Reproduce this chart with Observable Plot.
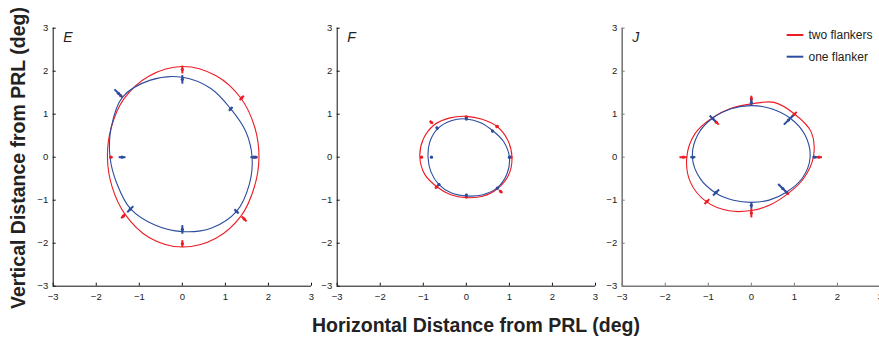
<!DOCTYPE html>
<html><head><meta charset="utf-8">
<script src="https://cdn.jsdelivr.net/npm/d3@7"></script>
<script src="https://cdn.jsdelivr.net/npm/@observablehq/plot@0.6"></script>
<style>
html,body{margin:0;padding:0;background:#fff;}
#wrap{position:relative;width:879px;height:337px;overflow:hidden;background:#fff;font-family:"Liberation Sans",Arial,Helvetica,sans-serif;}
.panel{position:absolute;top:0;}
#overlay{position:absolute;left:0;top:0;pointer-events:none;}
</style></head><body><div id="wrap"></div>
<script>
// ---- labels / categories ----
const panelNames = ["E", "F", "J"];
const seriesNames = ["two flankers", "one flanker"];
const tickValues = [-3, -2, -1, 0, 1, 2, 3];
const xTitle = "Horizontal Distance from PRL (deg)";
const yTitle = "Vertical Distance from PRL (deg)";

// ---- fitted contours: radius (deg) at 16 equally spaced directions, starting rightward, counter-clockwise ----
const fitE_two = [1.78, 1.82, 1.93, 2.05, 2.11, 2.04, 1.92, 1.79, 1.74, 1.77, 1.88, 2.02, 2.09, 2.04, 1.93, 1.81];
const fitE_one = [1.62, 1.59, 1.59, 1.73, 1.86, 1.94, 1.97, 1.79, 1.68, 1.64, 1.70, 1.70, 1.73, 1.78, 1.78, 1.68];
const fitF_two = [1.06, 1.04, 1.01, 0.955, 0.95, 0.99, 1.06, 1.085, 1.08, 1.045, 0.97, 0.945, 0.94, 0.985, 1.03, 1.065];
const fitF_one = [1.00, 0.94, 0.87, 0.87, 0.89, 0.92, 0.94, 0.92, 0.89, 0.89, 0.90, 0.90, 0.90, 0.95, 1.01, 1.02];
const fitJ_two = [1.44, 1.51, 1.42, 1.38, 1.24, 1.23, 1.29, 1.42, 1.50, 1.53, 1.47, 1.35, 1.24, 1.19, 1.20, 1.31];
const fitJ_one = [1.365, 1.35, 1.28, 1.22, 1.20, 1.22, 1.28, 1.35, 1.37, 1.29, 1.175, 1.083, 1.05, 1.08, 1.15, 1.28];

// ---- measured thresholds at 8 directions (deg), with error half-lengths ----
const dataDirections = [0, 45, 90, 135, 180, 225, 270, 315];
const ptsE_two = [1.70, 1.95, 2.04, 2.03, 1.66, 1.94, 2.01, 2.03];
const errE_two = [0.05, 0.07, 0.09, 0.05, 0.04, 0.07, 0.08, 0.08];
const ptsE_one = [1.66, 1.59, 1.81, 2.10, 1.40, 1.71, 1.68, 1.78];
const errE_one = [0.08, 0.06, 0.10, 0.13, 0.08, 0.10, 0.10, 0.07];
const ptsF_two = [1.03, 1.01, 0.93, 1.15, 1.04, 0.98, 0.92, 1.13];
const errF_two = [0.04, 0.04, 0.04, 0.05, 0.03, 0.05, 0.04, 0.05];
const ptsF_one = [1.00, 0.86, 0.89, 0.96, 0.81, 0.90, 0.88, 1.02];
const errF_one = [0.03, 0.03, 0.03, 0.04, 0.02, 0.03, 0.03, 0.03];
const ptsJ_two = [1.57, 1.41, 1.36, 1.15, 1.58, 1.46, 1.30, 1.17];
const errJ_two = [0.07, 0.08, 0.07, 0.08, 0.09, 0.08, 0.10, 0.06];
const ptsJ_one = [1.47, 1.22, 1.27, 1.27, 1.36, 1.16, 1.12, 1.03];
const errJ_one = [0.05, 0.15, 0.08, 0.10, 0.06, 0.10, 0.08, 0.15];

const RED = "#ed1c24", BLUE = "#2c4c9f";

function contour(radii) {
  const n = radii.length;
  return radii.map((r, i) => { const a = i * 2 * Math.PI / n; return {x: r * Math.cos(a), y: r * Math.sin(a)}; });
}
function points(radii, errs) {
  return radii.map((r, i) => {
    const a = dataDirections[i] * Math.PI / 180, c = Math.cos(a), s = Math.sin(a);
    return {x: r * c, y: r * s, x1: (r - errs[i]) * c, y1: (r - errs[i]) * s, x2: (r + errs[i]) * c, y2: (r + errs[i]) * s};
  });
}
const fmt = d => (d < 0 ? "\u2212" + (-d) : String(d));

const panels = [
  {name: panelNames[0], left: 20, two: fitE_two, one: fitE_one, p2: points(ptsE_two, errE_two), p1: points(ptsE_one, errE_one), axis: "#111", axisW: 1},
  {name: panelNames[1], left: 304, two: fitF_two, one: fitF_one, p2: points(ptsF_two, errF_two), p1: points(ptsF_one, errF_one), axis: "#111", axisW: 1},
  {name: panelNames[2], left: 589, two: fitJ_two, one: fitJ_one, p2: points(ptsJ_two, errJ_two), p1: points(ptsJ_one, errJ_one), axis: "#7a7a7a", axisW: 1.6}
];

const wrap = document.getElementById("wrap");
for (const p of panels) {
  const chart = Plot.plot({
    width: 300, height: 300,
    marginLeft: 32.7, marginRight: 9, marginTop: 27.7, marginBottom: 14.3,
    x: {domain: [-3, 3]},
    y: {domain: [-3, 3]},
    style: {background: "transparent", fontFamily: "'Liberation Sans', Arial, sans-serif", fontSize: "9.5px", overflow: "visible"},
    marks: [
      Plot.ruleX([-3], {stroke: p.axis, strokeWidth: p.axisW}),
      Plot.ruleY([-3], {stroke: p.axis, strokeWidth: p.axisW}),
      Plot.axisX({ticks: tickValues, tickFormat: fmt, tickSize: -3, tickPadding: 10, label: null, stroke: p.axis, fill: "#222", fontSize: 9.5}),
      Plot.axisY({ticks: tickValues, tickFormat: fmt, tickSize: -3, tickPadding: 8, label: null, stroke: p.axis, fill: "#222", fontSize: 9.5}),
      Plot.line(contour(p.two), {x: "x", y: "y", curve: "catmull-rom-closed", stroke: RED, strokeWidth: 1.1}),
      Plot.line(contour(p.one), {x: "x", y: "y", curve: "catmull-rom-closed", stroke: BLUE, strokeWidth: 1.1}),
      Plot.link(p.p2, {x1: "x1", y1: "y1", x2: "x2", y2: "y2", stroke: RED, strokeWidth: 2}),
      Plot.dot(p.p2, {x: "x", y: "y", r: 1.6, fill: RED}),
      Plot.link(p.p1, {x1: "x1", y1: "y1", x2: "x2", y2: "y2", stroke: BLUE, strokeWidth: 2}),
      Plot.dot(p.p1, {x: "x", y: "y", r: 1.6, fill: BLUE}),
      Plot.text([p.name], {frameAnchor: "top-left", dx: 10, dy: 4, lineAnchor: "top", textAnchor: "start", fontStyle: "italic", fontSize: 14, fill: "#222"})
    ]
  });
  chart.classList.add("panel");
  chart.style.left = p.left + "px";
  wrap.appendChild(chart);
}

// overlay: axis titles and legend
const ns = "http://www.w3.org/2000/svg";
const ov = document.createElementNS(ns, "svg");
ov.setAttribute("id", "overlay"); ov.setAttribute("width", 879); ov.setAttribute("height", 337);
function add(tag, attrs, text) {
  const el = document.createElementNS(ns, tag);
  for (const k in attrs) el.setAttribute(k, attrs[k]);
  if (text != null) el.textContent = text;
  ov.appendChild(el); return el;
}
add("text", {x: 476, y: 332, "text-anchor": "middle", "font-size": 19.5, "font-weight": "bold", fill: "#222", "font-family": "'Liberation Sans', Arial, sans-serif"}, xTitle);
add("text", {transform: "translate(25,158) rotate(-90)", "text-anchor": "middle", "font-size": 19.5, "font-weight": "bold", fill: "#222", "font-family": "'Liberation Sans', Arial, sans-serif"}, yTitle);
const legendColors = [RED, BLUE];
seriesNames.forEach((s, i) => {
  const y = 35 + i * 21.7;
  add("line", {x1: 786.7, x2: 803.3, y1: y, y2: y, stroke: legendColors[i], "stroke-width": 2});
  add("text", {x: 808.5, y: y + 4.2, "font-size": 12, fill: "#222", "font-family": "'Liberation Sans', Arial, sans-serif"}, s);
});
wrap.appendChild(ov);
</script></body></html>
